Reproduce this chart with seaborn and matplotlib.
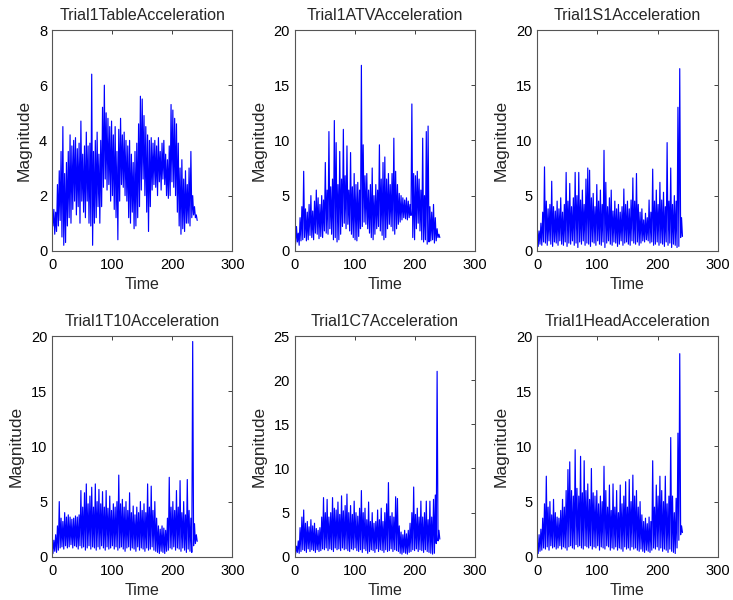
import numpy as np
import pandas as pd
import matplotlib
matplotlib.use("Agg")
import matplotlib.pyplot as plt
import seaborn as sns

# Panel titles and y-axis limits / ticks
titles = ["Trial1TableAcceleration", "Trial1ATVAcceleration", "Trial1S1Acceleration",
          "Trial1T10Acceleration", "Trial1C7Acceleration", "Trial1HeadAcceleration"]
y_max = [8, 20, 20, 20, 25, 20]
y_step = [2, 5, 5, 5, 5, 5]
x_ticks = [0, 100, 200, 300]

# Local maxima of each acceleration trace (every 3 s, starting at t = 0)
table_peaks = [1.2, 1.5, 1.4, 2.4, 2.9, 3.6, 4.5, 2.8, 3.2, 3.6, 4.2, 3.8, 4.0, 4.1, 3.7, 3.9, 4.7,
               3.5, 3.8, 4.3, 3.8, 3.9, 6.4, 3.6, 4.0, 4.3, 3.5, 4.0, 5.2, 6.0, 5.0, 4.8, 4.5, 4.7,
               4.2, 4.5, 3.6, 4.4, 4.8, 4.2, 4.3, 4.0, 3.8, 4.0, 3.5, 3.2, 3.6, 3.9, 4.6, 5.6, 5.5,
               4.9, 4.5, 4.2, 4.0, 4.1, 3.9, 4.0, 3.8, 4.1, 3.6, 3.9, 4.0, 3.5, 3.3, 3.8, 5.3, 5.1,
               4.8, 4.6, 3.9, 3.0, 3.3, 2.6, 2.9, 2.4, 3.0, 3.6, 2.0, 1.6, 1.3]
atv_peaks = [1.8, 2.2, 1.6, 3.0, 4.0, 7.2, 3.8, 3.5, 4.2, 5.0, 3.6, 4.5, 5.5, 4.8, 4.2, 5.0, 4.6,
             8.0, 5.5, 10.8, 5.8, 6.5, 11.8, 9.8, 6.0, 9.0, 6.5, 11.0, 6.8, 9.5, 5.5, 8.9, 5.8,
             7.0, 6.0, 6.2, 5.5, 16.8, 9.6, 6.8, 7.0, 5.5, 6.0, 7.5, 5.0, 6.0, 5.5, 9.6, 6.5, 8.0,
             8.5, 6.5, 7.0, 6.0, 7.0, 10.2, 7.2, 6.0, 5.2, 5.0, 4.8, 4.6, 4.8, 4.5, 4.2, 13.3,
             7.0, 6.8, 7.2, 6.5, 5.5, 10.2, 5.0, 10.8, 11.3, 4.0, 3.5, 4.2, 3.0, 2.0, 1.5]
s1_peaks = [2.2, 1.8, 2.5, 3.5, 7.6, 4.5, 3.8, 4.2, 6.3, 4.0, 3.6, 4.5, 3.8, 4.8, 3.5, 4.2, 7.1,
            4.5, 6.1, 4.0, 4.8, 7.1, 5.0, 7.1, 4.6, 5.5, 4.2, 6.5, 7.5, 7.3, 4.8, 5.2, 4.0, 6.0,
            4.5, 5.5, 4.2, 9.1, 6.2, 4.0, 4.8, 5.5, 3.6, 4.5, 3.8, 4.2, 3.5, 4.0, 5.6, 4.2, 4.5,
            3.8, 4.6, 6.6, 4.5, 7.0, 4.2, 3.5, 3.8, 2.8, 3.4, 3.0, 4.6, 3.5, 7.4, 4.5, 5.5, 4.2,
            6.2, 4.6, 5.3, 4.0, 9.8, 4.5, 7.5, 4.2, 5.0, 4.5, 13.0, 16.5, 3.0]
t10_peaks = [1.2, 1.5, 2.0, 2.8, 5.0, 3.5, 3.2, 4.0, 3.6, 3.8, 3.6, 3.4, 3.5, 3.7, 3.6, 3.8, 6.0,
             4.5, 5.8, 6.6, 4.8, 5.5, 6.3, 4.5, 6.6, 5.0, 6.1, 4.8, 5.9, 4.5, 6.0, 4.4, 5.5, 4.2,
             4.8, 4.5, 5.0, 7.4, 4.8, 5.2, 4.5, 5.0, 4.2, 5.8, 4.0, 4.6, 3.8, 4.5, 4.0, 5.0, 4.2,
             4.8, 4.0, 6.6, 4.5, 6.4, 4.2, 5.0, 3.5, 2.8, 2.5, 2.8, 2.6, 2.4, 3.5, 7.2, 4.5, 5.0,
             4.2, 6.0, 4.5, 6.9, 4.0, 5.0, 3.8, 7.0, 4.2, 3.5, 19.5, 3.0, 2.0]
c7_peaks = [1.5, 1.2, 1.8, 3.3, 4.5, 5.3, 3.8, 4.0, 3.4, 4.2, 3.5, 3.8, 3.2, 3.0, 3.3, 4.5, 6.7,
            5.0, 6.5, 4.5, 5.0, 6.7, 5.5, 5.3, 6.2, 4.8, 6.9, 5.2, 5.8, 7.1, 5.0, 5.8, 4.8, 6.3,
            5.0, 4.6, 5.5, 7.5, 5.0, 5.5, 4.2, 6.2, 4.0, 5.0, 3.8, 4.0, 5.3, 4.2, 5.5, 4.0, 5.0,
            6.0, 8.4, 4.6, 5.0, 4.5, 6.8, 6.6, 3.5, 2.8, 2.5, 3.0, 2.6, 3.0, 3.8, 5.0, 7.9, 4.8,
            5.5, 4.5, 6.3, 4.5, 5.0, 6.3, 4.2, 6.3, 4.5, 6.5, 7.0, 21.0, 3.0]
head_peaks = [1.5, 2.0, 2.5, 3.5, 4.8, 7.3, 4.5, 5.0, 3.8, 5.2, 4.0, 3.6, 3.5, 4.2, 5.2, 4.5, 6.0,
              7.9, 8.6, 6.0, 5.5, 9.7, 6.2, 5.5, 9.1, 5.8, 8.7, 6.0, 6.6, 5.2, 8.0, 5.8, 5.5, 6.0,
              4.8, 5.5, 5.0, 8.2, 6.0, 4.5, 6.5, 4.2, 6.6, 4.5, 6.0, 4.0, 6.5, 4.8, 5.5, 6.8, 4.5,
              7.0, 5.0, 7.4, 5.5, 6.0, 4.5, 5.0, 3.8, 3.2, 3.5, 3.0, 3.6, 3.2, 8.7, 4.5, 6.5, 5.5,
              7.3, 6.0, 5.0, 7.3, 4.8, 5.5, 10.8, 5.5, 4.0, 5.3, 11.2, 18.4, 2.8]

# Local minima of each trace (every 3 s, starting at t = 1.5)
table_troughs = [0.9, 0.6, 0.7, 0.9, 1.1, 0.5, 0.2, 0.3, 0.9, 1.2, 1.0, 1.5, 1.8, 1.3, 1.6, 1.0,
                 1.8, 1.4, 1.2, 1.8, 1.0, 0.9, 0.2, 1.0, 1.2, 1.6, 1.0, 1.6, 2.3, 2.6, 2.2, 2.4,
                 1.8, 2.0, 1.5, 1.2, 0.4, 1.8, 2.4, 2.3, 2.0, 1.8, 1.2, 1.0, 1.4, 0.8, 0.9, 1.2,
                 1.6, 2.2, 2.6, 2.0, 1.4, 0.7, 1.6, 2.2, 2.4, 2.3, 2.0, 2.5, 2.2, 2.6, 2.4, 2.0,
                 1.9, 2.0, 2.5, 2.3, 2.0, 1.4, 0.9, 0.6, 0.8, 0.7, 1.0, 1.0, 0.9, 1.2, 1.3, 1.2, 1.1]
atv_troughs = [0.6, 0.8, 0.5, 0.9, 1.0, 1.2, 0.9, 1.0, 1.4, 1.2, 1.0, 1.6, 1.5, 1.1, 1.3, 1.2,
               1.8, 1.6, 1.5, 2.0, 1.5, 1.0, 1.2, 0.8, 1.0, 1.5, 2.2, 2.5, 2.0, 2.4, 1.8, 1.5,
               1.2, 1.0, 0.9, 1.3, 2.0, 2.2, 2.6, 2.4, 2.0, 1.6, 1.2, 1.0, 1.5, 2.0, 2.2, 1.8,
               1.4, 1.0, 1.2, 2.0, 2.4, 2.2, 1.8, 1.5, 2.0, 2.4, 2.6, 2.8, 3.0, 2.9, 2.8, 3.0,
               3.2, 1.2, 1.0, 2.0, 2.5, 1.8, 1.0, 0.8, 1.0, 0.6, 0.8, 0.9, 1.0, 0.7, 0.9, 1.2, 1.2]
s1_troughs = [0.4, 0.6, 0.5, 0.8, 0.7, 0.5, 0.9, 0.6, 0.4, 0.8, 0.7, 0.5, 0.9, 0.6, 0.5, 0.8,
              0.4, 0.7, 0.6, 0.9, 0.5, 0.7, 0.3, 0.8, 0.6, 0.9, 0.5, 0.7, 0.6, 0.4, 0.8, 0.7,
              0.5, 0.9, 0.6, 0.5, 0.8, 0.3, 0.7, 0.9, 0.6, 0.5, 0.8, 0.7, 0.4, 0.6, 0.9, 0.5,
              0.7, 0.8, 0.6, 0.5, 0.9, 0.7, 0.6, 0.8, 0.5, 0.7, 0.9, 0.8, 1.0, 0.9, 0.7, 0.8,
              0.5, 0.6, 0.8, 0.5, 0.7, 0.6, 0.4, 0.8, 0.5, 0.7, 0.3, 0.6, 0.5, 0.3, 0.4, 1.2, 1.3]
t10_troughs = [0.3, 0.5, 0.4, 0.6, 0.8, 0.9, 0.7, 1.0, 0.8, 0.9, 1.1, 0.8, 1.0, 0.9, 0.7, 1.0,
               0.8, 0.9, 0.6, 0.8, 1.0, 0.7, 0.9, 0.8, 0.6, 0.9, 0.7, 1.0, 0.8, 0.6, 0.9, 0.7,
               0.8, 1.0, 0.7, 0.9, 0.6, 0.8, 0.9, 0.7, 0.5, 0.8, 0.9, 0.6, 0.8, 0.7, 0.5, 0.9,
               0.6, 0.8, 0.7, 0.5, 0.8, 0.6, 0.7, 0.9, 0.6, 0.5, 0.4, 0.3, 0.5, 0.4, 0.3, 0.5,
               0.6, 0.8, 0.7, 0.9, 0.6, 0.8, 0.7, 0.5, 0.8, 0.6, 0.4, 0.7, 0.5, 0.4, 1.0, 1.2, 1.4]
c7_troughs = [0.3, 0.5, 0.4, 0.6, 0.8, 0.7, 0.5, 0.9, 0.6, 0.8, 0.7, 0.5, 0.8, 0.6, 0.7, 0.9,
              0.8, 1.0, 0.7, 0.9, 0.8, 0.6, 1.0, 0.8, 0.9, 0.7, 1.0, 0.8, 0.9, 0.7, 0.6, 0.9,
              0.8, 1.0, 0.7, 0.6, 0.8, 0.5, 0.9, 0.7, 0.4, 0.6, 0.8, 0.7, 0.5, 0.9, 0.6, 0.8,
              0.7, 0.5, 0.8, 0.6, 0.7, 0.9, 0.6, 0.8, 0.7, 0.6, 0.4, 0.3, 0.5, 0.4, 0.3, 0.5,
              0.6, 0.8, 0.7, 0.9, 0.6, 0.8, 0.7, 0.5, 0.8, 0.6, 0.5, 0.4, 0.3, 0.4, 1.5, 1.8, 2.0]
head_troughs = [0.3, 0.5, 0.6, 0.8, 0.7, 0.9, 0.6, 1.0, 0.8, 0.9, 0.7, 0.8, 1.0, 0.7, 0.9, 0.8,
                0.6, 0.9, 1.0, 0.8, 0.7, 1.1, 0.9, 1.0, 0.8, 0.7, 1.0, 0.9, 0.8, 1.0, 0.7, 0.9,
                0.8, 1.0, 0.6, 0.9, 0.8, 0.7, 1.0, 0.9, 0.6, 0.8, 0.7, 0.9, 0.6, 0.8, 0.7, 0.5,
                0.9, 0.7, 0.8, 0.6, 0.9, 0.7, 0.8, 0.6, 0.5, 0.7, 0.5, 0.4, 0.6, 0.5, 0.4, 0.6,
                0.8, 0.7, 0.9, 0.6, 0.8, 0.5, 0.7, 0.6, 0.4, 0.7, 0.5, 0.4, 0.3, 0.8, 1.5, 2.0, 2.2]

peaks = [table_peaks, atv_peaks, s1_peaks, t10_peaks, c7_peaks, head_peaks]
troughs = [table_troughs, atv_troughs, s1_troughs, t10_troughs, c7_troughs, head_troughs]

sns.set_style("white")
plt.rcParams["font.family"] = ["Liberation Sans", "DejaVu Sans"]
plt.rcParams["font.size"] = 10.5

fig = plt.figure(figsize=(7.33, 6.0), dpi=100)
lefts = [0.071, 0.402, 0.733]
bottoms = [0.582, 0.072]
w, h = 0.246, 0.368


def trace_frame(hi, lo):
    t_hi = 3.0 * np.arange(len(hi))
    t_lo = 1.5 + 3.0 * np.arange(len(lo))
    df = pd.DataFrame({"Time": np.concatenate([t_hi, t_lo]),
                       "Magnitude": np.concatenate([hi, lo])})
    return df.sort_values("Time").reset_index(drop=True)


for i in range(6):
    r, c = divmod(i, 3)
    ax = fig.add_axes([lefts[c], bottoms[r], w, h])
    df = trace_frame(peaks[i], troughs[i])
    sns.lineplot(data=df, x="Time", y="Magnitude", ax=ax, color="#0000ff",
                 linewidth=0.85, estimator=None, sort=False)
    ax.set_xlim(0, 300)
    ax.set_ylim(0, y_max[i])
    ax.set_xticks(x_ticks)
    ax.set_yticks(np.arange(0, y_max[i] + 0.1, y_step[i]))
    ax.set_title(titles[i], fontsize=11.5, pad=7)
    ax.set_xlabel("Time", fontsize=11.5, labelpad=4)
    ax.set_ylabel("Magnitude", fontsize=12.5, labelpad=5)
    ax.tick_params(axis="x", pad=5)
    ax.tick_params(direction="in", top=True, right=True, length=3, width=0.6,
                   labelsize=10.5, colors="#222222", labelcolor="black")
    for s in ax.spines.values():
        s.set_visible(True)
        s.set_color("#555555")
        s.set_linewidth(0.8)

fig.savefig("out.png", dpi=100, facecolor="white")
